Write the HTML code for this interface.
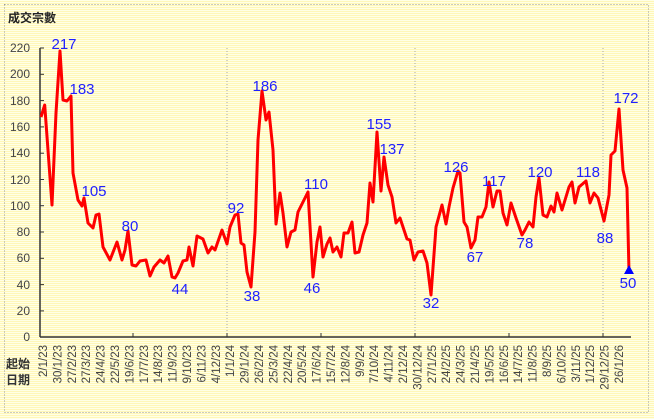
<!DOCTYPE html>
<html><head><meta charset="utf-8"><style>
html,body{margin:0;padding:0;}
body{width:654px;height:419px;overflow:hidden;background:#fff;}
#bg{position:absolute;left:0;top:0;width:654px;height:419px;background:repeating-linear-gradient(180deg,#ffffe6 0px,#ffffe6 1px,#fff7b8 1px,#fff7b8 2px);}
svg{position:absolute;left:0;top:0;}
text{font-family:"Liberation Sans","Noto Sans CJK TC",sans-serif;}
</style></head><body><div id="bg"></div>
<svg width="654" height="419" viewBox="0 0 654 419">
<rect x="4.5" y="4.5" width="644" height="408" fill="none" stroke="#999" stroke-dasharray="1,2"/>
<text x="8" y="22" font-size="12" font-weight="bold" fill="#222">成交宗數</text>
<g stroke="#aaa" stroke-dasharray="1,2">
<line x1="227" y1="48" x2="227" y2="337"/><line x1="415" y1="48" x2="415" y2="337"/><line x1="603" y1="48" x2="603" y2="337"/>
</g>
<g stroke="#333" stroke-width="1.5">
<line x1="40" y1="48" x2="40" y2="337"/><line x1="40" y1="337" x2="631" y2="337"/>
</g>
<g stroke="#333" stroke-width="1">
<line x1="40" y1="48" x2="44" y2="48"/><line x1="40" y1="74.3" x2="44" y2="74.3"/><line x1="40" y1="100.6" x2="44" y2="100.6"/><line x1="40" y1="126.9" x2="44" y2="126.9"/><line x1="40" y1="153.2" x2="44" y2="153.2"/><line x1="40" y1="179.5" x2="44" y2="179.5"/><line x1="40" y1="205.7" x2="44" y2="205.7"/><line x1="40" y1="232" x2="44" y2="232"/><line x1="40" y1="258.3" x2="44" y2="258.3"/><line x1="40" y1="284.6" x2="44" y2="284.6"/><line x1="40" y1="310.9" x2="44" y2="310.9"/>
<line x1="133" y1="333" x2="133" y2="337"/><line x1="227" y1="333" x2="227" y2="337"/><line x1="321" y1="333" x2="321" y2="337"/><line x1="415" y1="333" x2="415" y2="337"/><line x1="509" y1="333" x2="509" y2="337"/><line x1="603" y1="333" x2="603" y2="337"/>
</g>
<g font-size="12" fill="#444" text-anchor="end">
<text x="30" y="52">220</text><text x="30" y="78">200</text><text x="30" y="105">180</text><text x="30" y="131">160</text><text x="30" y="157">140</text><text x="30" y="184">120</text><text x="30" y="210">100</text><text x="30" y="236">80</text><text x="30" y="262">60</text><text x="30" y="289">40</text><text x="30" y="315">20</text><text x="30" y="341">0</text>
</g>
<text x="6" y="368" font-size="12" font-weight="bold" fill="#333">起始</text>
<text x="6" y="384" font-size="12" font-weight="bold" fill="#333">日期</text>
<g font-size="11.5" fill="#444" text-anchor="end">
<text transform="translate(47,345) rotate(-90)">2/1/23</text>
<text transform="translate(61.4,345) rotate(-90)">30/1/23</text>
<text transform="translate(75.8,345) rotate(-90)">27/2/23</text>
<text transform="translate(90.2,345) rotate(-90)">27/3/23</text>
<text transform="translate(104.6,345) rotate(-90)">24/4/23</text>
<text transform="translate(119,345) rotate(-90)">22/5/23</text>
<text transform="translate(133.4,345) rotate(-90)">19/6/23</text>
<text transform="translate(147.8,345) rotate(-90)">17/7/23</text>
<text transform="translate(162.2,345) rotate(-90)">14/8/23</text>
<text transform="translate(176.6,345) rotate(-90)">11/9/23</text>
<text transform="translate(191,345) rotate(-90)">9/10/23</text>
<text transform="translate(205.4,345) rotate(-90)">6/11/23</text>
<text transform="translate(219.8,345) rotate(-90)">4/12/23</text>
<text transform="translate(234.2,345) rotate(-90)">1/1/24</text>
<text transform="translate(248.6,345) rotate(-90)">29/1/24</text>
<text transform="translate(263,345) rotate(-90)">26/2/24</text>
<text transform="translate(277.4,345) rotate(-90)">25/3/24</text>
<text transform="translate(291.8,345) rotate(-90)">22/4/24</text>
<text transform="translate(306.2,345) rotate(-90)">20/5/24</text>
<text transform="translate(320.6,345) rotate(-90)">17/6/24</text>
<text transform="translate(335,345) rotate(-90)">15/7/24</text>
<text transform="translate(349.4,345) rotate(-90)">12/8/24</text>
<text transform="translate(363.8,345) rotate(-90)">9/9/24</text>
<text transform="translate(378.2,345) rotate(-90)">7/10/24</text>
<text transform="translate(392.6,345) rotate(-90)">4/11/24</text>
<text transform="translate(407,345) rotate(-90)">2/12/24</text>
<text transform="translate(421.4,345) rotate(-90)">30/12/24</text>
<text transform="translate(435.8,345) rotate(-90)">27/1/25</text>
<text transform="translate(450.2,345) rotate(-90)">24/2/25</text>
<text transform="translate(464.6,345) rotate(-90)">24/3/25</text>
<text transform="translate(479,345) rotate(-90)">21/4/25</text>
<text transform="translate(493.4,345) rotate(-90)">19/5/25</text>
<text transform="translate(507.8,345) rotate(-90)">16/6/25</text>
<text transform="translate(522.2,345) rotate(-90)">14/7/25</text>
<text transform="translate(536.6,345) rotate(-90)">11/8/25</text>
<text transform="translate(551,345) rotate(-90)">8/9/25</text>
<text transform="translate(565.4,345) rotate(-90)">6/10/25</text>
<text transform="translate(579.8,345) rotate(-90)">3/11/25</text>
<text transform="translate(594.2,345) rotate(-90)">1/12/25</text>
<text transform="translate(608.6,345) rotate(-90)">29/12/25</text>
<text transform="translate(623,345) rotate(-90)">26/1/26</text>
</g>
<polyline fill="none" stroke="#ff0000" stroke-width="3" stroke-linejoin="round" points="41,117 44.7,105 52,205 56,113 60,51 63,100 67,101 71,96 73,173 78,200 82,206 84,198 88,223 93,228 96,215 99,214 103,247 110,260 117,242 122,260 125,250 128,231 132,265 136,266 140,261 146,260 150,276 154,267 160,260 164,263 168,256 172,277 175,278 178,273 183,261 187,260 189,247 193,266 197,236 203,239 208,253 212,247 215,250 222,230 227,244 230,227 235,215 238,214 241,243 244,245 247,272 251,287 255,232 258,140 262,91 266,120 269,112 273,150 276,224 280,193 283,213 287,247 291,232 295,230 298,212 303,202 308,192 313,277 317,242 320,227 323,257 327,244 330,238 333,252 337,247 341,257 344,233 348,233 352,222 355,253 359,252 363,235 367,223 370,183 373,202 377,132 381,191 384,157 388,185 392,197 396,223 400,218 405,233 407,239 410,240 414,260 418,252 423,251 427,263 431,295 436,227 442,205 446,224 449,207 453,188 458,171 460,173 464,222 467,227 471,248 475,240 478,217 482,217 486,207 489,182 493,207 497,191 500,191 503,213 507,225 511,203 516,218 522,235 525,230 529,222 533,227 536,197 539,178 543,215 547,217 551,206 554,212 557,193 562,210 569,187 572,182 575,203 579,187 586,181 590,203 594,193 598,198 604,221 609,195 611,155 615,151 619,109 623,170 627,188 629,272"/>
<polygon points="629,265 634,274 624,274" fill="#0000ff"/>
<g font-size="15" fill="#2020ff" text-anchor="middle">
<text x="64" y="49">217</text><text x="82" y="94">183</text><text x="94" y="196">105</text><text x="130" y="231">80</text><text x="180" y="294">44</text>
<text x="236" y="213">92</text><text x="252" y="301">38</text><text x="265" y="91">186</text><text x="316" y="189">110</text><text x="312" y="293">46</text>
<text x="379" y="129">155</text><text x="392" y="154">137</text><text x="431" y="308">32</text><text x="456" y="172">126</text><text x="475" y="262">67</text>
<text x="494" y="186">117</text><text x="525" y="248">78</text><text x="540" y="177">120</text><text x="588" y="177">118</text><text x="605" y="243">88</text>
<text x="626" y="103">172</text><text x="628" y="288">50</text>
</g>
</svg></body></html>
